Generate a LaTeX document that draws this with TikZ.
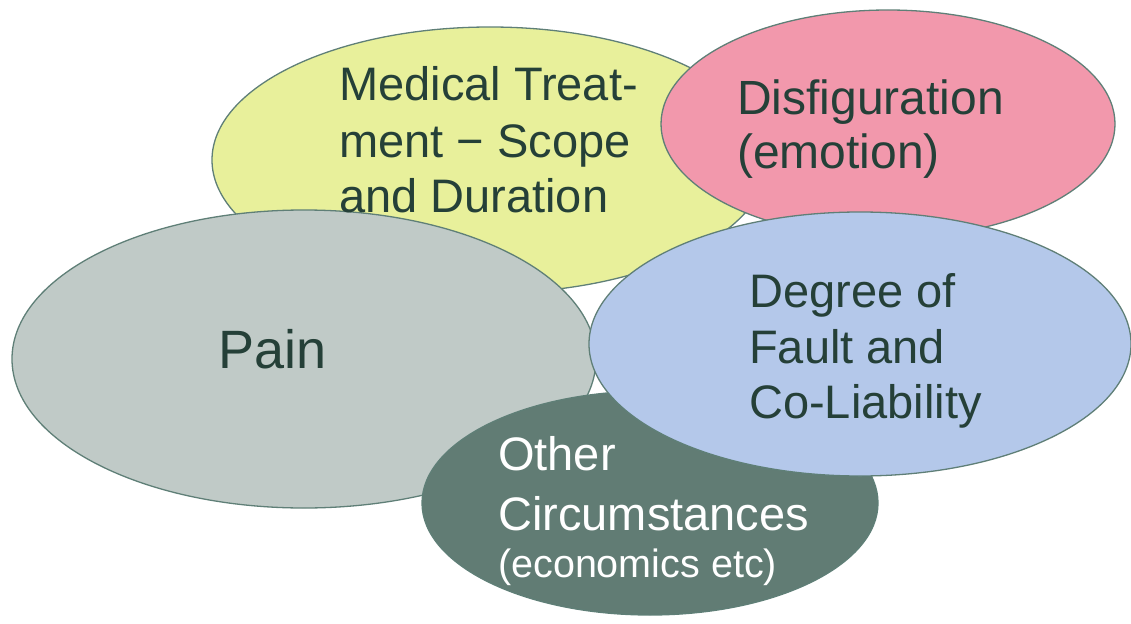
\documentclass[tikz,border=0pt]{standalone}
\usepackage{fontspec}
\setmainfont{Liberation Sans}
\usetikzlibrary{shapes.geometric}
\definecolor{edgec}{RGB}{95,127,119}
\definecolor{yelc}{RGB}{232,240,155}
\definecolor{pinkc}{RGB}{242,152,172}
\definecolor{greyc}{RGB}{192,202,199}
\definecolor{bluec}{RGB}{180,200,234}
\definecolor{darkc}{RGB}{97,124,116}
\definecolor{textc}{RGB}{37,64,56}
\begin{document}
\begin{tikzpicture}[x=1pt,y=-1pt,
  blob/.style={ellipse, draw=edgec, line width=1.3pt, inner sep=0pt, outer sep=0pt},
  txt/.style={anchor=base west, inner sep=0pt, text=textc, font=\fontsize{47}{56}\selectfont},
  wtxt/.style={txt, text=white}]
\useasboundingbox (0,0) rectangle (1131,623);
\node[blob, fill=yelc, minimum width=556pt, minimum height=266pt] (med) at (490,160) {};
\node[blob, fill=pinkc, minimum width=454pt, minimum height=228pt] (dis) at (888,124) {};
\node[blob, fill=greyc, minimum width=584pt, minimum height=298pt] (pain) at (304,359) {};
\node[blob, fill=darkc, minimum width=456pt, minimum height=224pt] (oth) at (650,503) {};
\node[blob, fill=bluec, minimum width=542pt, minimum height=264pt] (deg) at (860,344) {};
% texts
\node[txt] (med1) at (339,100) {Medical Treat-};
\node[txt] (med2) at (339,157) {ment \symbol{"2212} Scope};
\node[txt] (med3) at (339,212) {and Duration};
\node[txt, font=\fontsize{48}{56}\selectfont] (dis1) at (737,114) {Disfiguration};
\node[txt, font=\fontsize{48}{56}\selectfont] (dis2) at (737,168) {(emotion)};
\node[txt, font=\fontsize{54}{60}\selectfont] (paint) at (218,368) {Pain};
\node[txt] (deg1) at (749,307) {Degree of};
\node[txt] (deg2) at (749,363) {Fault and};
\node[txt] (deg3) at (749,418) {Co-Liability};
\node[wtxt] (oth1) at (498,470) {Other};
\node[wtxt] (oth2) at (498,530) {Circumstances};
\node[wtxt, font=\fontsize{39.5}{44}\selectfont] (oth3) at (498,577) {(economics etc)};
\end{tikzpicture}
\end{document}
